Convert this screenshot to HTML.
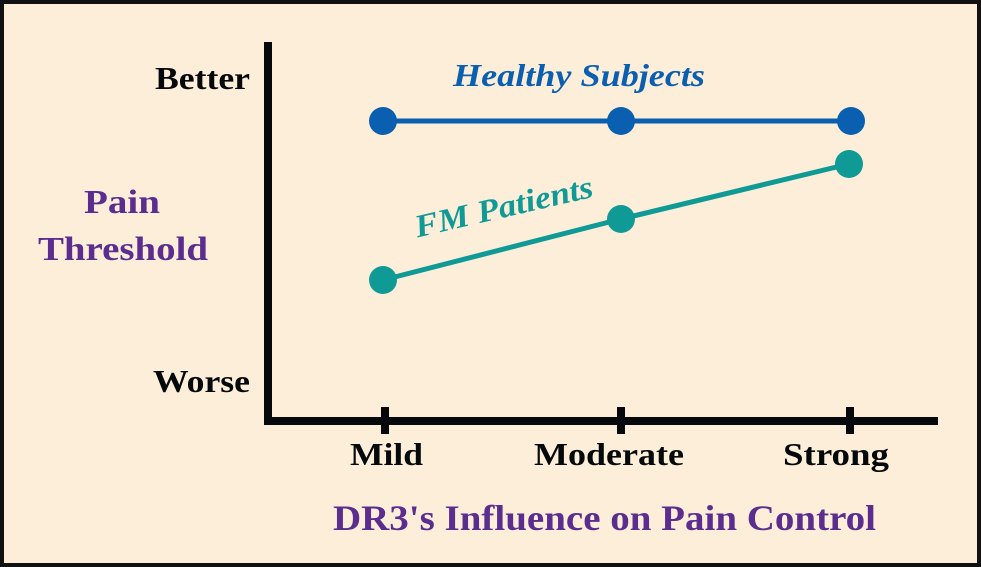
<!DOCTYPE html>
<html><head><style>
html,body{margin:0;padding:0;background:#fdeeda;}
svg{display:block;}
text{font-family:"Liberation Serif",serif;font-weight:bold;}
</style></head><body>
<svg width="981" height="567" viewBox="0 0 981 567">
<rect x="2" y="2" width="977" height="563" fill="#fdeeda" stroke="#111" stroke-width="4"/>
<line x1="268" y1="42" x2="268" y2="425" stroke="#05090c" stroke-width="8"/>
<line x1="264" y1="421" x2="938" y2="421" stroke="#05090c" stroke-width="8"/>
<line x1="385" y1="407" x2="385" y2="434" stroke="#05090c" stroke-width="8"/>
<line x1="621" y1="407" x2="621" y2="434" stroke="#05090c" stroke-width="8"/>
<line x1="850" y1="407" x2="850" y2="434" stroke="#05090c" stroke-width="8"/>
<text x="155" y="89" font-size="32" textLength="95" lengthAdjust="spacingAndGlyphs" fill="#05090c">Better</text>
<text x="153" y="392" font-size="32" textLength="97" lengthAdjust="spacingAndGlyphs" fill="#05090c">Worse</text>
<text x="84" y="213" font-size="34" textLength="76" lengthAdjust="spacingAndGlyphs" fill="#5b2d8e">Pain</text>
<text x="38" y="260" font-size="34" textLength="170" lengthAdjust="spacingAndGlyphs" fill="#5b2d8e">Threshold</text>
<text x="350" y="465" font-size="32" textLength="73" lengthAdjust="spacingAndGlyphs" fill="#05090c">Mild</text>
<text x="534" y="465" font-size="32" textLength="150" lengthAdjust="spacingAndGlyphs" fill="#05090c">Moderate</text>
<text x="783" y="465" font-size="32" textLength="106" lengthAdjust="spacingAndGlyphs" fill="#05090c">Strong</text>
<text x="333" y="530" font-size="36" textLength="543" lengthAdjust="spacingAndGlyphs" fill="#5b2d8e">DR3's Influence on Pain Control</text>
<text x="453" y="86" font-size="32" font-style="italic" textLength="252" lengthAdjust="spacingAndGlyphs" fill="#0a5fb0">Healthy Subjects</text>
<text x="0" y="0" font-size="32" font-style="italic" text-anchor="middle" textLength="182" lengthAdjust="spacingAndGlyphs" fill="#109a96" transform="translate(506,217) rotate(-13)">FM Patients</text>
<polyline points="383,121 621,121 851,121" fill="none" stroke="#0a5fb0" stroke-width="5"/>
<circle cx="383" cy="121" r="14" fill="#0a5fb0"/>
<circle cx="621" cy="121" r="14" fill="#0a5fb0"/>
<circle cx="851" cy="121" r="14" fill="#0a5fb0"/>
<polyline points="383,280 621,219 849,164" fill="none" stroke="#109a96" stroke-width="5"/>
<circle cx="383" cy="280" r="14" fill="#109a96"/>
<circle cx="621" cy="219" r="14" fill="#109a96"/>
<circle cx="849" cy="164" r="14" fill="#109a96"/>
</svg>
</body></html>
